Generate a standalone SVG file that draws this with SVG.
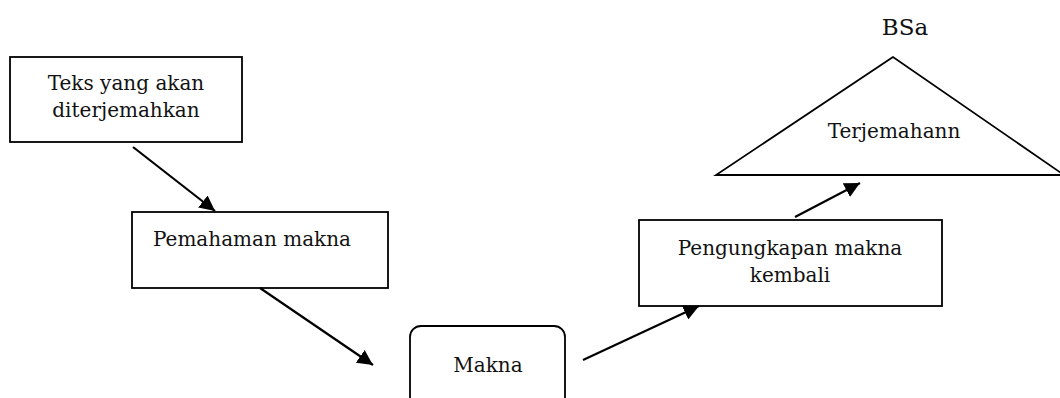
<svg xmlns="http://www.w3.org/2000/svg" width="1060" height="398" viewBox="0 0 1060 398">
<style>
.box{fill:#fff;stroke:#000;stroke-width:1.8}
.t{font-family:"DejaVu Serif","Liberation Serif",serif;font-size:20px;fill:#111}
.c{text-anchor:middle}
.conn line{stroke:#000;stroke-width:2.2}
</style>
<defs>
<marker id="ah" viewBox="0 0 10 10" refX="10" refY="5" markerWidth="7" markerHeight="7" markerUnits="strokeWidth" orient="auto">
<path d="M0,0 L10,5 L0,10 z" fill="#000"/>
</marker>
</defs>
<rect width="1060" height="398" fill="#fff"/>
<g id="n1">
<rect class="box" x="10" y="57" width="232" height="85"/>
<text class="t c" x="126" y="90">Teks yang akan</text>
<text class="t c" x="126" y="117">diterjemahkan</text>
</g>
<g id="n2">
<rect class="box" x="132" y="212" width="256" height="76"/>
<text class="t" x="153" y="246">Pemahaman makna</text>
</g>
<g id="n3">
<rect class="box" x="410" y="326" width="155" height="90" rx="11"/>
<text class="t c" x="488" y="372">Makna</text>
</g>
<g id="n4">
<rect class="box" x="639" y="220" width="303" height="86"/>
<text class="t c" x="790" y="255">Pengungkapan makna</text>
<text class="t c" x="790" y="282">kembali</text>
</g>
<g id="n5">
<polygon class="box" points="893,57 716,175 1064,175"/>
<text class="t c" x="894" y="138">Terjemahann</text>
<text class="t c" x="905" y="35" style="font-size:23px">BSa</text>
</g>
<g class="conn" id="connectors">
<line x1="133" y1="147" x2="215" y2="211" marker-end="url(#ah)"/>
<line x1="260" y1="288" x2="373" y2="365" marker-end="url(#ah)"/>
<line x1="583" y1="360" x2="699" y2="306" marker-end="url(#ah)"/>
<line x1="795" y1="217" x2="860" y2="183" marker-end="url(#ah)"/>
</g>
</svg>
